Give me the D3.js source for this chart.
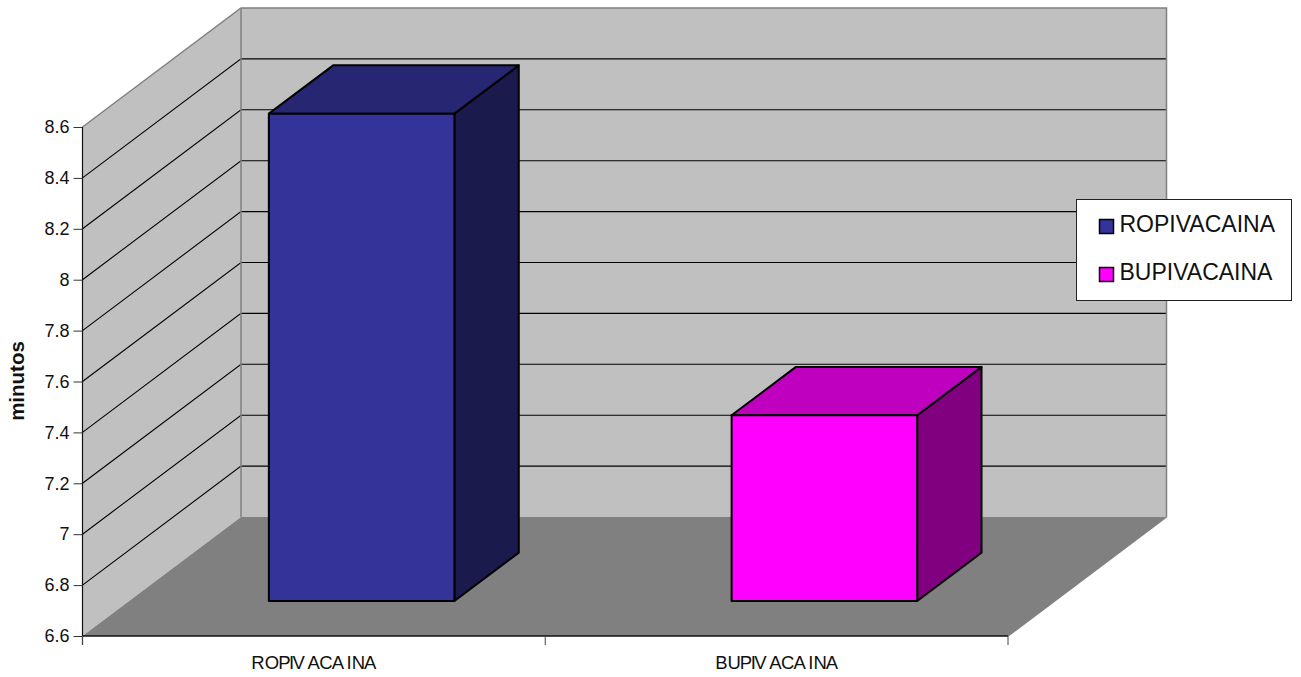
<!DOCTYPE html>
<html>
<head>
<meta charset="utf-8">
<style>
  html, body { margin: 0; padding: 0; background: #fff; }
  svg { display: block; }
  text { font-family: "Liberation Sans", Arial, sans-serif; fill: #111; }
</style>
<script src="https://cdn.jsdelivr.net/npm/d3@7"></script>
</head>
<body>
<svg id="chart" width="1301" height="677"></svg>
<script>
// Duration by anaesthetic, as a 3-D column chart
const categories = ["ROPIVACAINA", "BUPIVACAINA"];
const values = [8.515, 7.33];
const yTicks = [6.6, 6.8, 7, 7.2, 7.4, 7.6, 7.8, 8, 8.2, 8.4, 8.6];
const yTickLabels = ["6.6", "6.8", "7", "7.2", "7.4", "7.6", "7.8", "8", "8.2", "8.4", "8.6"];
const frontColors = ["#333399", "#ff00ff"];
const topColors = ["#262673", "#bf00bf"];
const sideColors = ["#1a1a4d", "#800080"];
const yTitle = "minutos";

const svg = d3.select("#chart");

// Front plane of the plot box and the oblique offset of its back plane
const plotLeft = 82.5, plotRight = 1008, plotBottom = 636, plotTop = 127;
const depthX = 158.5, depthY = -119;

const x = d3.scaleBand().domain(categories).range([plotLeft, plotRight]);
const y = d3.scaleLinear().domain([6.6, 8.6]).range([plotBottom, plotTop]);
const depth = d3.scaleLinear().domain([0, 1]).range([0, 1]);

// Oblique projection: column position along x, value on y, depth 0..1
const project = (px, v, d) => [px + depth(d) * depthX, y(v) + depth(d) * depthY];
const poly = pts => "M" + pts.map(p => p.join(",")).join("L") + "Z";

const yMin = y.domain()[0], yMax = y.domain()[1];

// Walls and floor
const walls = svg.append("g");
walls.append("path")
  .attr("d", poly([project(plotLeft, yMin, 0), project(plotLeft, yMax, 0), project(plotLeft, yMax, 1), project(plotLeft, yMin, 1)]))
  .attr("fill", "#c0c0c0");
walls.append("path")
  .attr("d", poly([project(plotLeft, yMin, 1), project(plotLeft, yMax, 1), project(plotRight, yMax, 1), project(plotRight, yMin, 1)]))
  .attr("fill", "#c0c0c0");
walls.append("path")
  .attr("d", poly([project(plotLeft, yMin, 0), project(plotLeft, yMin, 1), project(plotRight, yMin, 1), project(plotRight, yMin, 0)]))
  .attr("fill", "#808080");

// Gridlines run across the side wall and then along the back wall
const grid = svg.append("g").attr("fill", "none").attr("stroke", "#000").attr("stroke-width", 1.1);
yTicks.slice(1, -1).forEach(t => {
  grid.append("path").attr("d", d3.line()([project(plotLeft, t, 0), project(plotLeft, t, 1), project(plotRight, t, 1)]));
});

// Wall outlines
const outline = svg.append("g").attr("fill", "none").attr("stroke", "#808080").attr("stroke-width", 1.5);
outline.append("path").attr("d", d3.line()([project(plotLeft, yMax, 0), project(plotLeft, yMax, 1), project(plotRight, yMax, 1), project(plotRight, yMin, 1)]));
outline.append("path").attr("d", d3.line()([project(plotLeft, yMin, 1), project(plotLeft, yMax, 1)]));
outline.append("path").attr("d", d3.line()([project(plotRight, yMin, 0), project(plotRight, yMin, 1)]));

// Columns: side and top faces first, front face last
const barInset = x.bandwidth() * 0.302;
const barWidth = x.bandwidth() * 0.401;
const depthNear = 0.294, depthFar = 0.70;
const bars = svg.append("g").attr("stroke", "#000").attr("stroke-width", 2).attr("stroke-linejoin", "round")
  .selectAll("g").data(categories).join("g");
bars.append("path").attr("fill", (d, i) => sideColors[i]).attr("d", (d, i) => {
  const xr = x(d) + barInset + barWidth;
  return poly([project(xr, yMin, depthNear), project(xr, values[i], depthNear), project(xr, values[i], depthFar), project(xr, yMin, depthFar)]);
});
bars.append("path").attr("fill", (d, i) => topColors[i]).attr("d", (d, i) => {
  const xl = x(d) + barInset, xr = xl + barWidth;
  return poly([project(xl, values[i], depthNear), project(xl, values[i], depthFar), project(xr, values[i], depthFar), project(xr, values[i], depthNear)]);
});
bars.append("path").attr("fill", (d, i) => frontColors[i]).attr("d", (d, i) => {
  const xl = x(d) + barInset, xr = xl + barWidth;
  return poly([project(xl, yMin, depthNear), project(xl, values[i], depthNear), project(xr, values[i], depthNear), project(xr, yMin, depthNear)]);
});

// Value axis
const yAxis = d3.axisLeft(y).tickValues(yTicks).tickFormat((d, i) => yTickLabels[i]).tickSize(9).tickPadding(4);
const gy = svg.append("g").attr("transform", `translate(${plotLeft},0)`).call(yAxis);
gy.attr("font-family", null).attr("font-size", null);
gy.select("path").attr("stroke", "#111").attr("stroke-width", 1.2).attr("d", `M0,${plotTop}V${plotBottom + 9}`);
gy.selectAll("line").attr("stroke", "#333");
gy.selectAll("text").attr("font-size", 18);

// Category axis: ticks sit on the band edges, labels on the band centres
const gx = svg.append("g").attr("transform", `translate(0,${plotBottom})`);
gx.append("line").attr("x1", plotLeft).attr("x2", plotRight).attr("stroke", "#111").attr("stroke-width", 1.4);
gx.selectAll(".edge").data([...categories.map(c => x(c)), plotRight]).join("line")
  .attr("class", "edge").attr("x1", d => d).attr("x2", d => d).attr("y2", 9)
  .attr("stroke", "#444");
gx.selectAll(".cat").data(categories).join("text")
  .attr("class", "cat")
  .attr("x", d => x(d) + x.bandwidth() / 2)
  .attr("y", 33).attr("text-anchor", "middle").attr("font-size", 18.5)
  .style("font-kerning", "none")
  .attr("dx", "0 0 -1 -1.5 -1.5 2.5 -0.5 -1 2.5 0 -1")
  .text(d => d);

// Axis title
svg.append("text")
  .attr("transform", "translate(23.5,381) rotate(-90)")
  .attr("text-anchor", "middle").attr("font-size", 20.5).attr("font-weight", "bold")
  .text(yTitle);

// Legend
const legend = svg.append("g").attr("transform", "translate(1076.5,199.5)");
legend.append("rect").attr("width", 215).attr("height", 101).attr("fill", "#fff").attr("stroke", "#222");
const rows = legend.selectAll(".row").data(categories).join("g").attr("class", "row")
  .attr("transform", (d, i) => `translate(0,${i * 48})`);
rows.append("rect").attr("x", 23).attr("y", 20).attr("width", 14).attr("height", 14)
  .attr("fill", (d, i) => frontColors[i]).attr("stroke", "#000").attr("stroke-width", 1.5);
rows.append("text").attr("x", 43).attr("y", 32.5).attr("font-size", 23).text(d => d);
</script>
</body>
</html>
